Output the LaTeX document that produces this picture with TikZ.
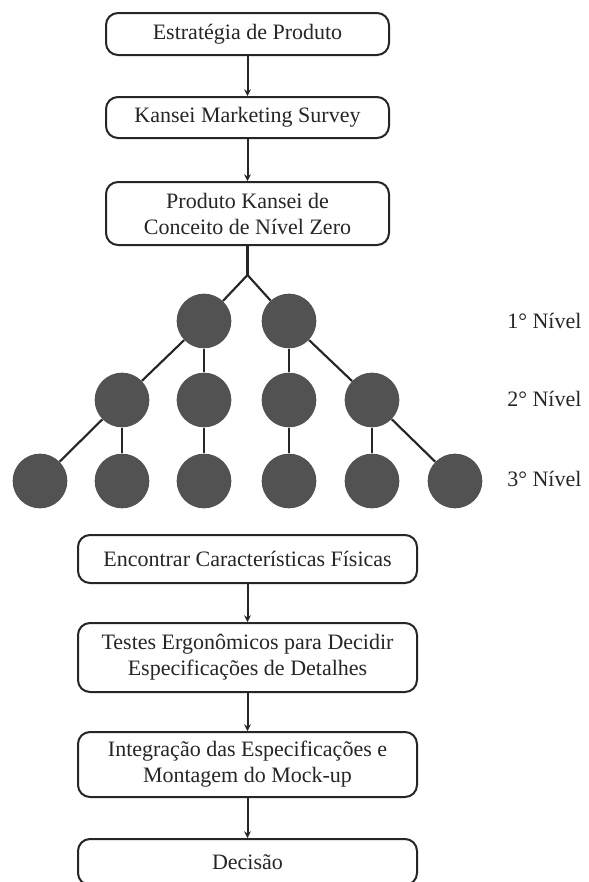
\documentclass[tikz,border=0pt]{standalone}
\usepackage{fontspec}
\setmainfont{Liberation Serif}
\usetikzlibrary{arrows.meta}
\begin{document}
\begin{tikzpicture}[x=0.75pt,y=-0.75pt,
  stepbox/.style={draw=black!85,line width=1.5pt,rounded corners=9pt,fill=white,
    inner sep=0pt,align=center,font=\fontsize{16.5}{19.5}\selectfont,text=black!85},
  topbox/.style={stepbox,minimum width=212.25pt},
  lowbox/.style={stepbox,minimum width=254.25pt},
  flow/.style={line width=1.5pt,draw=black!85,-{Stealth[length=5pt,width=5pt]}},
  dot/.style={circle,fill=black!68,draw=none,minimum size=41pt,inner sep=0pt},
  branch/.style={line width=1.6pt,draw=black!85},
  lvl/.style={anchor=west,font=\fontsize{16.5}{19.5}\selectfont,text=black!85,inner sep=0pt}]
\useasboundingbox (0,0) rectangle (589,882);
\clip (0,0) rectangle (589,882);
\fill[white] (0,0) rectangle (589,882);

% top boxes
\node[topbox,minimum height=31.5pt] (b1) at (247.5,34) {Estratégia de Produto};
\node[topbox,minimum height=30.75pt] (b2) at (247.5,117.5) {Kansei Marketing Survey};
\node[topbox,minimum height=47.25pt] (b3) at (247.5,213.5) {Produto Kansei de\\Conceito de Nível Zero};

\draw[flow] (b1) -- (b2);
\draw[flow] (b2) -- (b3);

% tree
\coordinate (j) at (247.5,275);
\node[dot] (c11) at (204,321) {};
\node[dot] (c12) at (289,321) {};
\node[dot] (c21) at (122,400) {};
\node[dot] (c22) at (204,400) {};
\node[dot] (c23) at (289,400) {};
\node[dot] (c24) at (372,400) {};
\node[dot] (c31) at (40,481) {};
\node[dot] (c32) at (122,481) {};
\node[dot] (c33) at (204,481) {};
\node[dot] (c34) at (289,481) {};
\node[dot] (c35) at (372,481) {};
\node[dot] (c36) at (455,481) {};

\draw[branch] (b3.south) -- (j);
\draw[branch] (j) -- (c11);
\draw[branch] (j) -- (c12);
\draw[branch] (c11) -- (c21);
\draw[branch] (c11) -- (c22);
\draw[branch] (c12) -- (c23);
\draw[branch] (c12) -- (c24);
\draw[branch] (c21) -- (c31);
\draw[branch] (c21) -- (c32);
\draw[branch] (c22) -- (c33);
\draw[branch] (c23) -- (c34);
\draw[branch] (c24) -- (c35);
\draw[branch] (c24) -- (c36);

\node[lvl] (l1) at (507,321) {1° Nível};
\node[lvl] (l2) at (507,399) {2° Nível};
\node[lvl] (l3) at (507,479) {3° Nível};

% lower boxes
\node[lowbox,minimum height=36pt] (b4) at (247.5,559) {Encontrar Características Físicas};
\node[lowbox,minimum height=51.75pt] (b5) at (247.5,657.5) {Testes Ergonômicos para Decidir\\Especificações de Detalhes};
\node[lowbox,minimum height=48.75pt] (b6) at (247.5,764.5) {Integração das Especificações e\\Montagem do Mock-up};
\node[lowbox,minimum height=34.5pt,text depth=0pt] (b7) at (247.5,862) {Decisão};

\draw[flow] (b4) -- (b5);
\draw[flow] (b5) -- (b6);
\draw[flow] (b6) -- (b7);
\end{tikzpicture}
\end{document}
